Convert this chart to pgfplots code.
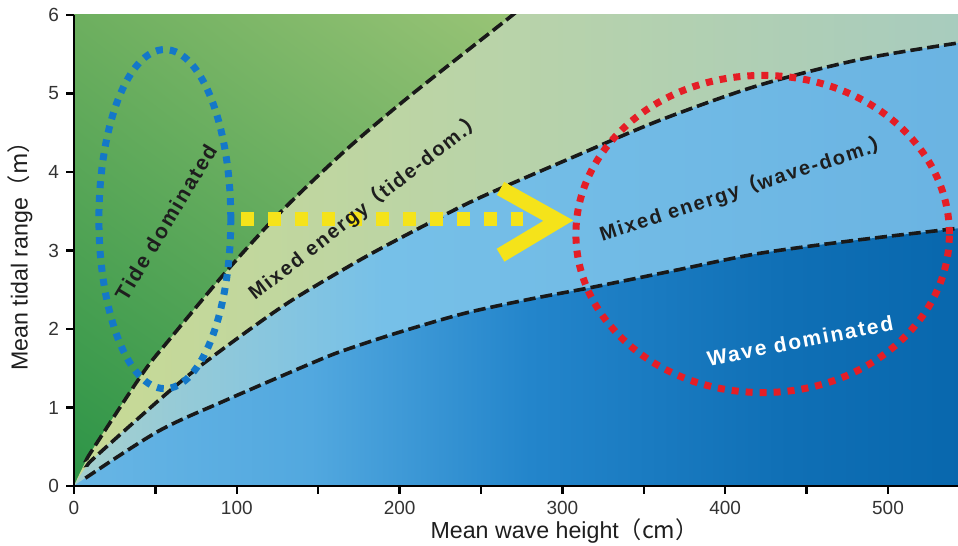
\documentclass[border=0pt]{standalone}
\usepackage{pgfplots}
\pgfplotsset{compat=1.18}
\usepackage{fontspec}
\setmainfont{Liberation Sans}
\newfontfamily\cjk{Noto Sans CJK SC}
\newfontfamily\ann[LetterSpace=9]{Liberation Sans}
\usetikzlibrary{shadings}
\definecolor{gLL}{HTML}{2C9447}
\definecolor{gUL}{HTML}{6DAF5F}
\definecolor{gUR}{HTML}{C5D98E}
\definecolor{gLR}{HTML}{7DB468}
\definecolor{mtL}{HTML}{C8DA95}
\definecolor{mtR}{HTML}{A7CBBF}
\definecolor{mwL}{HTML}{A6D0CE}
\definecolor{mwM}{HTML}{76C0E8}
\definecolor{mwR}{HTML}{6AB3E2}
\definecolor{wdL}{HTML}{68B6E5}
\definecolor{wdA}{HTML}{52A8DF}
\definecolor{wdM}{HTML}{2385CB}
\definecolor{wdR}{HTML}{0766AC}
\definecolor{dotblue}{HTML}{1478C8}
\definecolor{dotred}{HTML}{E41E26}
\definecolor{arrowyel}{HTML}{F5E31A}
\definecolor{txt}{HTML}{1E1E1E}
\definecolor{ticktxt}{HTML}{333333}
\pgfdeclarehorizontalshading{mwshade}{100bp}{color(0bp)=(mwL); color(25bp)=(mwL); color(42bp)=(mwM); color(75bp)=(mwR); color(100bp)=(mwR)}
\pgfdeclarehorizontalshading{wdshade}{100bp}{color(0bp)=(wdL); color(25bp)=(wdL); color(38bp)=(wdA); color(50bp)=(wdM); color(64bp)=(wdR!70!wdM); color(75bp)=(wdR); color(100bp)=(wdR)}
\begin{document}
\begin{tikzpicture}
\begin{axis}[
  width=442pt, height=235.5pt, scale only axis,
  xmin=0, xmax=543, ymin=0, ymax=6,
  axis x line=bottom, axis y line=left,
  axis line style={-, line width=1.2pt, color=black},
  axis on top,
  tick align=outside, major tick length=4pt,
  tick style={line width=1.2pt, black},
  xtick={0,50,...,500}, xticklabels={0,,100,,200,,300,,400,,500},
  ytick={0,1,...,6},
  ticklabel style={font=\fontsize{9.5}{11}\selectfont, text=ticktxt},
  /pgf/number format/assume math mode=true,
  xlabel={Mean wave height\cjk{（}cm\cjk{）}},
  ylabel={Mean tidal range\cjk{（}m\cjk{）}},
  label style={font=\fontsize{11.6}{13}\selectfont, text=txt},
  xlabel style={at={(rel axis cs:0.555,0)}, anchor=center, yshift=-22.5pt},
  ylabel style={at={(rel axis cs:0,0.5)}, anchor=center, yshift=27pt},
]
% background: tide dominated
\addplot[draw=none, lower left=gLL, upper left=gUL, upper right=gUR, lower right=gLR]
  coordinates {(0,6) (545,6)} \closedcycle;
% mixed energy (tide-dom.): below curve 1
\addplot[draw=none, smooth, left color=mtL, right color=mtR]
  coordinates {(0,0) (11,0.45) (42,1.43) (58,1.85) (93,2.72) (126,3.47) (167,4.28) (207,4.98) (267,5.96) (275,6.1) (560,6.1)} \closedcycle;
% mixed energy (wave-dom.): below curve 2
\addplot[draw=none, smooth, shading=mwshade, shading angle=0]
  coordinates {(0,0) (12,0.35) (52,1.09) (77,1.52) (113,2.07) (138,2.42) (180,2.93) (220,3.37) (250,3.68) (310,4.22) (360,4.66) (420,5.1) (482,5.43) (542,5.64) (560,5.68)} \closedcycle;
% wave dominated: below curve 3
\addplot[draw=none, smooth, shading=wdshade, shading angle=0]
  coordinates {(0,0) (7,0.1) (52,0.70) (93,1.09) (150,1.6) (169,1.75) (200,1.96) (240,2.2) (280,2.38) (318,2.53) (370,2.75) (420,2.96) (480,3.13) (542,3.28) (560,3.32)} \closedcycle;
% dashed boundaries
\addplot[smooth, line width=1.8pt, color=black!90, dash pattern=on 6pt off 2.5pt]
  coordinates {(8,0.34) (11,0.45) (42,1.43) (58,1.85) (93,2.72) (126,3.47) (167,4.28) (207,4.98) (267,5.96) (275,6.1)};
\addplot[smooth, line width=1.8pt, color=black!90, dash pattern=on 6pt off 2.5pt]
  coordinates {(9,0.27) (12,0.35) (52,1.09) (77,1.52) (113,2.07) (138,2.42) (180,2.93) (220,3.37) (250,3.68) (310,4.22) (360,4.66) (420,5.1) (482,5.43) (542,5.64) (560,5.68)};
\addplot[smooth, line width=1.8pt, color=black!90, dash pattern=on 6pt off 2.5pt]
  coordinates {(7,0.1) (52,0.70) (93,1.09) (150,1.6) (169,1.75) (200,1.96) (240,2.2) (280,2.38) (318,2.53) (370,2.75) (420,2.96) (480,3.13) (542,3.28) (560,3.32)};
% ellipses
\draw[dotblue, line width=3.5pt, dash pattern=on 3.5pt off 3.5pt] (axis cs:55.8,3.4) ellipse [x radius=40.5, y radius=2.16];
\draw[dotred, line width=3.5pt, dash pattern=on 3.5pt off 3.5pt] (axis cs:423,3.21) ellipse [x radius=114.7, y radius=2.02];
% yellow arrow
\draw[arrowyel, line width=7pt, dash pattern=on 6.5pt off 7pt] (axis cs:102.5,3.4) -- (axis cs:276,3.4);
\draw[arrowyel, line width=7.5pt, miter limit=10] (axis cs:262,3.79) -- (axis cs:297.5,3.38) -- (axis cs:262,2.94);
% region labels
\node[rotate=59, text=txt, font=\ann\bfseries\fontsize{10.5}{12}\selectfont] at (axis cs:56.4,3.36) {Tide dominated};
\node[rotate=38, text=txt, font=\ann\bfseries\fontsize{10}{12}\selectfont] at (axis cs:179,3.56) {Mixed energy{\cjk（}tide-dom.{\cjk）}};
\node[rotate=18, text=txt, font=\ann\bfseries\fontsize{10}{12}\selectfont] at (axis cs:412,3.79) {Mixed energy{\cjk（}wave-dom.{\cjk）}};
\node[rotate=11, text=white, font=\ann\bfseries\fontsize{10.5}{12}\selectfont] at (axis cs:446,1.85) {Wave dominated};
\coordinate (bl) at (rel axis cs:0,0);
\coordinate (tr) at (rel axis cs:1,1);
\end{axis}
\pgfresetboundingbox
\path ([xshift=-37pt,yshift=-30pt]bl) rectangle ([yshift=7.5pt]tr);
\end{tikzpicture}
\end{document}
